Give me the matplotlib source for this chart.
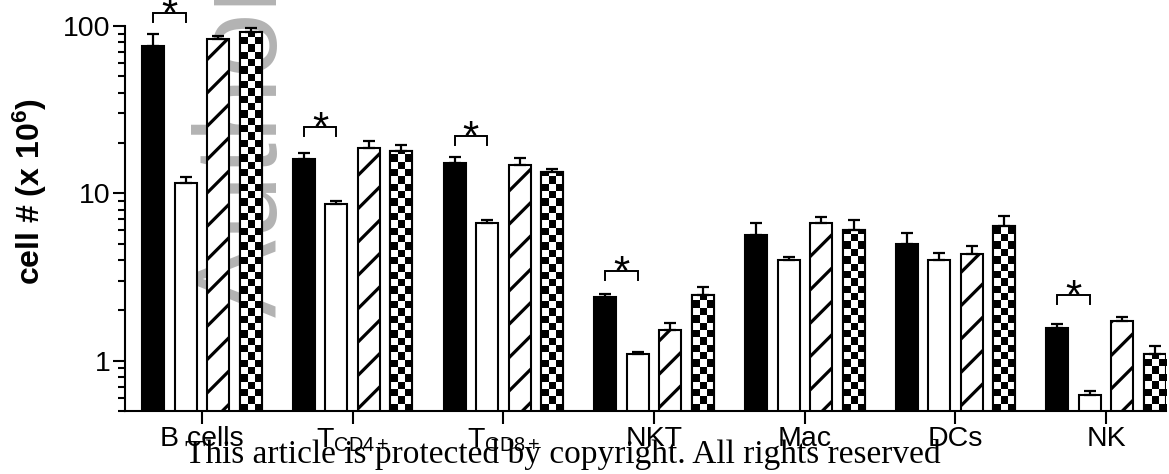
import numpy as np
import matplotlib
matplotlib.use('Agg')
import matplotlib.pyplot as plt
from matplotlib.ticker import LogLocator, NullFormatter, FixedLocator

# ---------------- data ----------------
categories = ['B cells', 'T$_\\mathregular{CD4+}$', 'T$_\\mathregular{CD8+}$', 'NKT', 'Mac', 'DCs', 'NK']
black_vals = [76, 16.1, 15.1, 2.41, 5.63, 4.96, 1.56]
black_err = [13.5, 1.4, 1.3, 0.09, 1.02, 0.83, 0.10]
white_vals = [11.6, 8.67, 6.62, 1.09, 4.01, 4.00, 0.62]
white_err = [1.0, 0.33, 0.33, 0.03, 0.17, 0.40, 0.04]
hatch_vals = [83.5, 18.7, 14.8, 1.53, 6.67, 4.32, 1.72]
hatch_err = [3.5, 1.8, 1.4, 0.16, 0.58, 0.54, 0.10]
check_vals = [92, 17.9, 13.4, 2.48, 6.04, 6.38, 1.10]
check_err = [4.8, 1.6, 0.6, 0.26, 0.89, 0.92, 0.13]
sig_groups = [0, 1, 2, 3, 6]
sig_base = [106, 22.1, 19.4, 3.03, 2.18]
yticks = [1, 10, 100]
ytick_labels = ['1', '10', '100']
ylabel = r'cell # (x 10$^{\mathbf{6}}$)'
footer = 'This article is protected by copyright. All rights reserved'
watermark = 'Author Manuscript'

plt.rcParams['font.family'] = ['Liberation Sans', 'DejaVu Sans']
plt.rcParams['mathtext.fontset'] = 'custom'
plt.rcParams['mathtext.rm'] = 'Liberation Sans'
plt.rcParams['mathtext.bf'] = 'Liberation Sans:bold'
plt.rcParams['mathtext.it'] = 'Liberation Sans:italic'
plt.rcParams['hatch.linewidth'] = 2.3
plt.rcParams['hatch.color'] = 'black'

W, H = 1169, 474
fig = plt.figure(figsize=(W / 100, H / 100), dpi=100)
ax = fig.add_axes([125 / W, 63 / H, 1041 / W, 385 / H])
ax.patch.set_visible(False)
ax.set_yscale('log')

x = np.arange(len(categories))
step = 0.2157
bw = 0.146
xlim = (-0.511, 6.397)
ylim = (0.5, 100)
ax.set_xlim(*xlim)
ax.set_ylim(*ylim)

lw = 1.5
ax.bar(x - 1.5 * step, black_vals, bw, color='black', edgecolor='black', lw=lw, zorder=2)
ax.bar(x - 0.5 * step, white_vals, bw, color='white', edgecolor='black', lw=lw, zorder=2)
ax.bar(x + 0.5 * step, hatch_vals, bw, color='white', edgecolor='black', hatch='/', lw=lw, zorder=2)
cb = ax.bar(x + 1.5 * step, check_vals, bw, color='white', edgecolor='black', lw=lw, zorder=2)

# checkerboard fill
ax_w_px = 1041.0
ax_h_px = 385.0
to_axes = ax.transData + ax.transAxes.inverted()
for p in cb:
    (a0, _), (a1, _) = to_axes.transform([(p.get_x(), 1), (p.get_x() + p.get_width(), 1)])
    sq_px = (a1 - a0) * ax_w_px / 3.0
    sqh = sq_px / ax_h_px
    nrows = int(np.ceil(1 / sqh)) + 2
    arr = np.indices((nrows, 3)).sum(axis=0) % 2
    im = ax.imshow(arr, cmap='gray', vmin=0, vmax=1, extent=(a0, a1, 0, nrows * sqh),
                   transform=ax.transAxes, interpolation='nearest', aspect='auto',
                   origin='lower', zorder=2.2)
    im.set_clip_path(p)
ax.bar(x + 1.5 * step, check_vals, bw, fill=False, edgecolor='black', lw=lw, zorder=2.4)

# error bars (upper only)
for off, vals, errs in [(-1.5, black_vals, black_err), (-0.5, white_vals, white_err),
                        (0.5, hatch_vals, hatch_err), (1.5, check_vals, check_err)]:
    ax.errorbar(x + off * step, vals, yerr=[np.zeros(len(vals)), errs], fmt='none',
                ecolor='black', elinewidth=1.6, capsize=4, capthick=1.6, zorder=2.5)

# significance brackets
for g, base in zip(sig_groups, sig_base):
    xl = g - 1.5 * step
    xr = g - 0.5 * step
    top = base * 1.132
    ax.plot([xl, xl, xr, xr], [base, top, top, base], color='black', lw=1.4,
            clip_on=False, zorder=3, solid_joinstyle='miter')
    ax.annotate('*', xy=(g - step, top), xytext=(0, -10), textcoords='offset points',
                ha='center', va='baseline', fontsize=30, annotation_clip=False)

ax.set_xlim(*xlim)
ax.set_ylim(*ylim)

# axes styling
for s in ['top', 'right']:
    ax.spines[s].set_visible(False)
for s in ['left', 'bottom']:
    ax.spines[s].set_linewidth(1.5)
ax.yaxis.set_major_locator(FixedLocator(yticks))
ax.set_yticklabels(ytick_labels)
ax.yaxis.set_minor_locator(LogLocator(base=10, subs=np.arange(2, 10)))
ax.yaxis.set_minor_formatter(NullFormatter())
ax.tick_params(axis='y', which='major', length=8.6, width=1.5, labelsize=20.5, pad=2)
ax.tick_params(axis='y', which='minor', length=5, width=1.5)
ax.set_xticks(x)
ax.set_xticklabels(categories)
ax.tick_params(axis='x', which='major', length=9, width=1.5, labelsize=20.5, pad=2)
ax.tick_params(axis='x', which='minor', length=0)

fig.text(30 / W, 1 - 192 / H, ylabel, rotation=90, ha='center', va='center',
         fontsize=23, fontweight='bold')

# watermark (behind bars)
ax.text(277 / W, 1 - 317 / H, watermark, transform=fig.transFigure, rotation=90,
        rotation_mode='anchor', ha='left', va='baseline', fontsize=84,
        color='#b3b3b3', zorder=0.5, clip_on=False)

fig.text(563 / W, 1 - 463 / H, footer, ha='center', va='baseline',
         fontsize=24, family='Liberation Serif', color='black')

fig.savefig('out.png', dpi=100)
